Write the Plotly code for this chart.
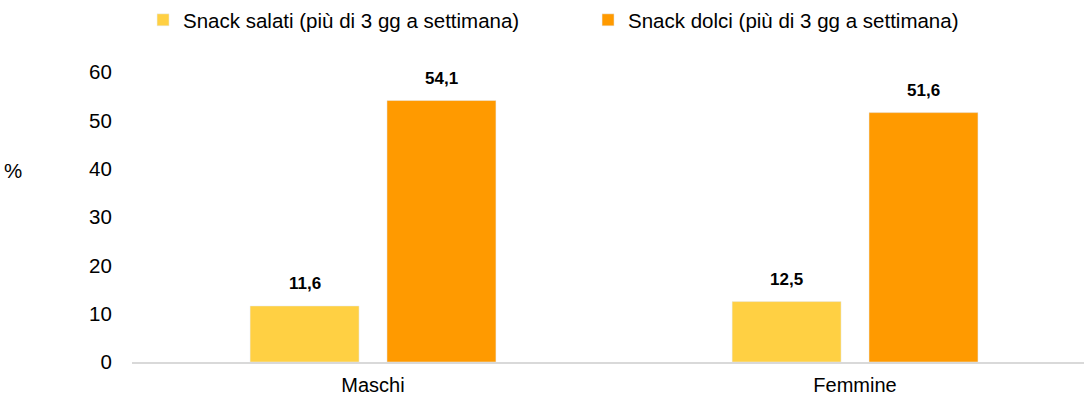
import plotly.graph_objects as go

categories = ["Maschi", "Femmine"]
salati = [11.6, 12.5]
dolci = [54.1, 51.6]
series_names = ["Snack salati (più di 3 gg a settimana)", "Snack dolci (più di 3 gg a settimana)"]
series_colors = ["#FFD043", "#FF9A00"]
y_ticks = [0, 10, 20, 30, 40, 50, 60]

font_family = "Liberation Sans, Arial, sans-serif"
base_size = 20.5

def fmt(v):
    return f"{v:.1f}".replace(".", ",")

fig = go.Figure()
for name, vals, color in zip(series_names, [salati, dolci], series_colors):
    fig.add_trace(go.Bar(x=categories, y=vals, name=name, marker_color=color))

# value labels above each bar (grouped offsets match bargap/bargroupgap below)
annotations = []
slot = (1 - 0.432) / 2
for i, vals in enumerate([salati, dolci]):
    shift = (i - 0.5) * slot
    for j, v in enumerate(vals):
        annotations.append(dict(
            x=j + shift, y=v, xref="x", yref="y", text=fmt(v), showarrow=False,
            xanchor="center", yanchor="middle", yshift=22,
            font=dict(family=font_family, size=17, color="#000000", weight="bold"),
        ))

annotations.append(dict(text="%", xref="paper", yref="paper", x=-0.125, y=0.66,
                        xanchor="center", yanchor="middle", showarrow=False,
                        font=dict(size=base_size)))

fig.update_layout(
    width=1084, height=396,
    margin=dict(l=132, r=0, t=72, b=34),
    paper_bgcolor="white", plot_bgcolor="white",
    barmode="group", bargap=0.432, bargroupgap=0.204,
    font=dict(family=font_family, size=base_size, color="#000000"),
    showlegend=True,
    legend=dict(orientation="h", x=0.0116, y=1.0, xanchor="left", yanchor="top",
                yref="container", entrywidth=400, entrywidthmode="pixels",
                font=dict(size=base_size), itemwidth=30, bgcolor="rgba(0,0,0,0)"),
    xaxis=dict(range=[-0.5, 1.475], showgrid=False, showline=True, linecolor="#d9d9d9",
               linewidth=1.5, ticks="outside", ticklen=4, tickcolor="white",
               tickfont=dict(size=20), automargin=False),
    yaxis=dict(range=[0, 60], tickvals=y_ticks, showgrid=False, zeroline=False,
               showline=False, ticks="outside", ticklen=15, tickcolor="white",
               tickfont=dict(size=base_size), automargin=False),
    annotations=annotations,
)

fig.write_html("out.html")
